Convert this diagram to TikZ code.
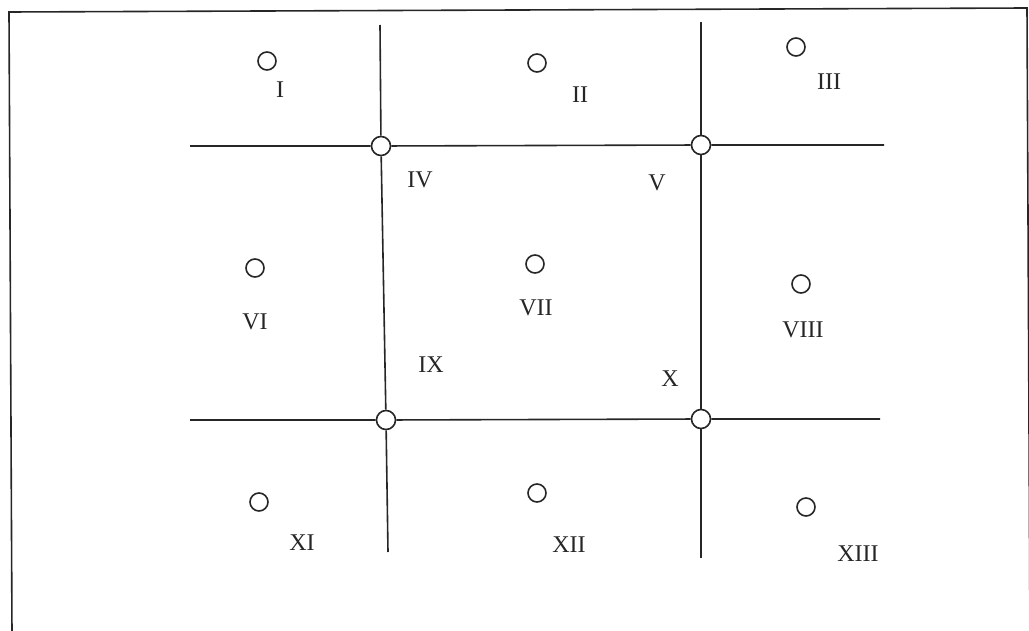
\documentclass[tikz,border=0pt]{standalone}
\usepackage{fontspec}
\setmainfont{Liberation Serif}
\usepackage{tikz}
\usetikzlibrary{positioning}

\begin{document}
\begin{tikzpicture}[x=0.5pt,y=-0.5pt,
  ln/.style={draw=black!85,line width=0.8pt},
  pore/.style={circle,draw=black!85,line width=0.8pt,inner sep=0pt,minimum size=9pt},
  jn/.style={circle,draw=black!85,fill=white,line width=0.8pt,inner sep=0pt,minimum size=9.5pt},
  lab/.style={font=\fontsize{12}{14}\selectfont,text=black!85,inner sep=0pt}
]
\useasboundingbox (0,0) rectangle (1029,631);
% frame
\coordinate (fsw) at (12,634);
\coordinate (fnw) at (9,12);
\coordinate (fne) at (1027,8);
\coordinate (fse) at (1030,634);
\draw[ln] (fsw) -- (fnw) -- (fne) -- (fse);
% junctions
\node[jn] (j1) at (381,146) {};
\node[jn] (j2) at (701,145) {};
\node[jn] (j3) at (386,420) {};
\node[jn] (j4) at (701,419) {};
% line ends
\coordinate (h1w) at (190,146);
\coordinate (h1e) at (884,145);
\coordinate (h2w) at (190,420);
\coordinate (h2e) at (880,419);
\coordinate (v1n) at (380,25);
\coordinate (v1s) at (388,552);
\coordinate (v2n) at (701,22);
\coordinate (v2s) at (701,558);
\draw[ln] (h1w) -- (j1) -- (j2) -- (h1e);
\draw[ln] (h2w) -- (j3) -- (j4) -- (h2e);
\draw[ln] (v1n) -- (j1) -- (j3) -- (v1s);
\draw[ln] (v2n) -- (j2) -- (j4) -- (v2s);
% pores
\node[pore] (p1)  at (267,61)  {};
\node[pore] (p2)  at (537,63)  {};
\node[pore] (p3)  at (796,47)  {};
\node[pore] (p6)  at (255,268) {};
\node[pore] (p7)  at (535,264) {};
\node[pore] (p8)  at (801,284) {};
\node[pore] (p11) at (259,502) {};
\node[pore] (p12) at (537,493) {};
\node[pore] (p13) at (806,507) {};
% labels
\node[lab] (l1)  at (280,90)  {I};
\node[lab] (l2)  at (580,95)  {II};
\node[lab] (l3)  at (829,82)  {III};
\node[lab] (l4)  at (420,180) {IV};
\node[lab] (l5)  at (657,183) {V};
\node[lab] (l6)  at (255,322) {VI};
\node[lab] (l7)  at (536,308) {VII};
\node[lab] (l8)  at (803,330) {VIII};
\node[lab] (l9)  at (431,365) {IX};
\node[lab] (l10) at (670,379) {X};
\node[lab] (l11) at (302,543) {XI};
\node[lab] (l12) at (569,545) {XII};
\node[lab] (l13) at (858,554) {XIII};
\end{tikzpicture}
\end{document}
